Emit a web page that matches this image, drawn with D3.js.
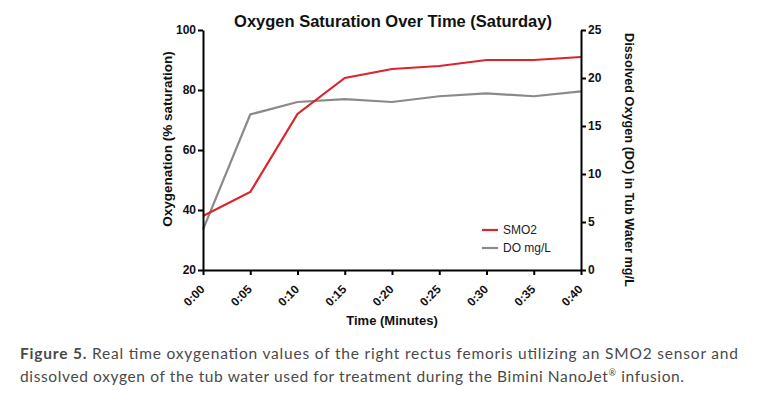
<!DOCTYPE html>
<html><head><meta charset="utf-8">
<script src="https://cdn.jsdelivr.net/npm/d3@7"></script>
<style>body{margin:0;background:#fff;} svg{display:block;}</style>
</head><body>
<svg id="c" width="757" height="405"></svg>
<script>
const times = ["0:00","0:05","0:10","0:15","0:20","0:25","0:30","0:35","0:40"];
const smo2 = [38, 46, 72, 84, 87, 88, 90, 90, 91];
const doMgL = [4.2, 16.2, 17.5, 17.8, 17.5, 18.1, 18.4, 18.1, 18.6];
const leftTicks = [20, 40, 60, 80, 100];
const rightTicks = [0, 5, 10, 15, 20, 25];

const svg = d3.select("#c");
const L = 203, R = 581, T = 30, B = 270;
const x = d3.scalePoint().domain(times).range([L, R]);
const yL = d3.scaleLinear().domain([20, 100]).range([B, T]);
const yR = d3.scaleLinear().domain([0, 25]).range([B, T]);
const font = "Liberation Sans, Arial, sans-serif";

// lines
const lineL = d3.line().x((d,i)=>x(times[i])).y(d=>yL(d));
const lineR = d3.line().x((d,i)=>x(times[i])).y(d=>yR(d));
svg.append("path").attr("d", lineR(doMgL)).attr("fill","none").attr("stroke","#8a8a8a").attr("stroke-width",2.2);
svg.append("path").attr("d", lineL(smo2)).attr("fill","none").attr("stroke","#d9262c").attr("stroke-width",2.2);

function styleAxis(g){
  g.selectAll(".domain").attr("stroke","#000").attr("stroke-width",2);
  g.selectAll(".tick line").attr("stroke","#000").attr("stroke-width",2);
  g.selectAll("text").attr("font-family",font).attr("font-weight","bold").attr("font-size",12).attr("fill","#111");
}
const gL = svg.append("g").attr("transform",`translate(${L},0)`)
  .call(d3.axisLeft(yL).tickValues(leftTicks).tickSize(5).tickSizeOuter(0).tickPadding(2));
styleAxis(gL);
const gR = svg.append("g").attr("transform",`translate(${R},0)`)
  .call(d3.axisRight(yR).tickValues(rightTicks).tickSize(5).tickSizeOuter(0).tickPadding(2));
styleAxis(gR);
const gX = svg.append("g").attr("transform",`translate(0,${B})`)
  .call(d3.axisBottom(x).tickSize(5).tickSizeOuter(0).tickPadding(3));
styleAxis(gX);
gX.selectAll("text").attr("text-anchor","end").attr("x",0).attr("y",0).attr("dy","0.35em")
  .attr("transform","translate(-1,17) rotate(-45)");

// title
svg.append("text").attr("x",393).attr("y",27).attr("text-anchor","middle")
  .attr("font-family",font).attr("font-weight","bold").attr("font-size",16.5).attr("fill","#111")
  .text("Oxygen Saturation Over Time (Saturday)");
// axis titles
svg.append("text").attr("transform","translate(172,139) rotate(-90)").attr("text-anchor","middle")
  .attr("font-family",font).attr("font-weight","bold").attr("font-size",13.5).attr("fill","#111")
  .text("Oxygenation (% saturation)");
svg.append("text").attr("transform","translate(625,160) rotate(90)").attr("text-anchor","middle")
  .attr("font-family",font).attr("font-weight","bold").attr("font-size",12.7).attr("fill","#111")
  .text("Dissolved Oxygen (DO) in Tub Water mg/L");
svg.append("text").attr("x",392).attr("y",325).attr("text-anchor","middle")
  .attr("font-family",font).attr("font-weight","bold").attr("font-size",13).attr("fill","#111")
  .text("Time (Minutes)");

// legend
const leg = [{name:"SMO2", c:"#d9262c"},{name:"DO mg/L", c:"#8a8a8a"}];
leg.forEach((d,i)=>{
  const yy = 230 + i*18;
  svg.append("line").attr("x1",482).attr("x2",498).attr("y1",yy).attr("y2",yy).attr("stroke",d.c).attr("stroke-width",2.2);
  svg.append("text").attr("x",503).attr("y",yy+4).attr("font-family",font).attr("font-size",12).attr("fill","#222").text(d.name);
});

// caption
const cap = svg.append("text").attr("x",20).attr("y",359).attr("font-family","Lato, sans-serif").attr("font-size",15.5).attr("fill","#4a4a4a")
  .attr("textLength",718).attr("lengthAdjust","spacing");
cap.append("tspan").attr("font-weight","bold").text("Figure 5.");
cap.append("tspan").text(" Real time oxygenation values of the right rectus femoris utilizing an SMO2 sensor and");
const cap2 = svg.append("text").attr("x",20).attr("y",382).attr("font-family","Lato, sans-serif").attr("font-size",15.5).attr("fill","#4a4a4a")
  .attr("textLength",664).attr("lengthAdjust","spacing");
cap2.append("tspan").text("dissolved oxygen of the tub water used for treatment during the Bimini NanoJet");
cap2.append("tspan").attr("font-size",9).attr("dy",-6).text("®");
cap2.append("tspan").attr("dy",6).text(" infusion.");
</script>
</body></html>
